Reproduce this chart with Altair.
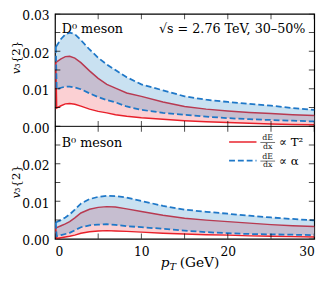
import altair as alt
import pandas as pd

# transverse momentum grid (GeV)
pt = [0.1, 0.2, 0.7, 1.2, 1.7, 2.3, 3.0, 4.0, 5.0, 6.0, 7.0, 8.3, 10.0, 12.5,
      15.0, 17.5, 20.0, 22.5, 25.0, 27.5, 30.0]

# D0 meson, dE/dx ~ T^2 (red band) and dE/dx ~ alpha (blue band)
d0_red_hi = [0.0169, 0.0172, 0.0180, 0.0186, 0.0187, 0.0182, 0.0170, 0.0148, 0.0128,
             0.0112, 0.0102, 0.0089, 0.0080, 0.0065, 0.0053, 0.0046, 0.0041, 0.0037,
             0.0034, 0.0031, 0.0029]
d0_red_lo = [0.0169, 0.0049, 0.0055, 0.0060, 0.0061, 0.0059, 0.0054, 0.0046, 0.0040,
             0.0036, 0.0031, 0.0027, 0.0023, 0.0019, 0.0015, 0.0012, 0.0010, 0.0008,
             0.0006, 0.0005, 0.0004]
d0_blue_hi = [0.0212, 0.0215, 0.0233, 0.0245, 0.0250, 0.0246, 0.0230, 0.0205, 0.0183,
              0.0165, 0.0150, 0.0131, 0.0112, 0.0096, 0.0080, 0.0071, 0.0065, 0.0060,
              0.0055, 0.0049, 0.0044]
d0_blue_lo = [0.0212, 0.0099, 0.0103, 0.0106, 0.0106, 0.0104, 0.0099, 0.0088, 0.0078,
              0.0070, 0.0064, 0.0053, 0.0044, 0.0036, 0.0031, 0.0026, 0.0022, 0.0019,
              0.0017, 0.0015, 0.0013]

# B0 meson
b0_red_hi = [0.0028, 0.0030, 0.0035, 0.0040, 0.0046, 0.0056, 0.0069, 0.0079, 0.0084,
             0.0086, 0.0085, 0.0080, 0.0073, 0.0063, 0.0055, 0.0050, 0.0046, 0.0042,
             0.0038, 0.0035, 0.0033]
b0_red_lo = [0.0028, 0.0001, 0.0003, 0.0005, 0.0007, 0.0010, 0.0015, 0.0019, 0.0021,
             0.0022, 0.0021, 0.0020, 0.0018, 0.0015, 0.0013, 0.0011, 0.0010, 0.0008,
             0.0007, 0.0006, 0.0005]
b0_blue_hi = [0.0043, 0.0045, 0.0050, 0.0057, 0.0065, 0.0078, 0.0094, 0.0106, 0.0112,
              0.0115, 0.0114, 0.0110, 0.0101, 0.0088, 0.0078, 0.0072, 0.0067, 0.0062,
              0.0057, 0.0053, 0.0049]
b0_blue_lo = [0.0043, 0.0007, 0.0010, 0.0013, 0.0016, 0.0023, 0.0031, 0.0036, 0.0038,
              0.0039, 0.0037, 0.0034, 0.0031, 0.0027, 0.0022, 0.0018, 0.0015, 0.0013,
              0.0012, 0.0011, 0.0010]

x_labels = [0, 10, 20, 30]
x_minor = [0, 5, 10, 15, 20, 25, 30]
y_labels = [0.0, 0.01, 0.02, 0.03, 0.04, 0.05, 0.06]
y_minor = [i * 0.005 for i in range(13)]
PANEL_OFFSET = 0.03  # upper panel (D0) is stacked above the lower one (B0)

RED = "#e8202a"
BLUE = "#1f78c8"
PINK = "#fbd0d3"
FONT = "DejaVu Serif, Liberation Serif, serif"
W, H = 265, 230


def panel_frame(name, off, rlo, rhi, blo, bhi):
    return pd.DataFrame({
        "panel": name, "pt": pt,
        "red_lo": [v + off for v in rlo], "red_hi": [v + off for v in rhi],
        "blue_lo": [v + off for v in blo], "blue_hi": [v + off for v in bhi],
    })


df = pd.concat([
    panel_frame("D0", PANEL_OFFSET, d0_red_lo, d0_red_hi, d0_blue_lo, d0_blue_hi),
    panel_frame("B0", 0.0, b0_red_lo, b0_red_hi, b0_blue_lo, b0_blue_hi),
])

xscale = alt.Scale(domain=[0, 30], nice=False, zero=False)
yscale = alt.Scale(domain=[0, 0.06], nice=False, zero=False)
xaxis = alt.Axis(values=x_labels, format="d", ticks=False, domain=False, grid=False,
                 title=None, labelPadding=7, labelFont=FONT, labelFontSize=12.5,
                 labelColor="black")
yaxis = alt.Axis(values=y_labels, ticks=False, domain=False, grid=False, title=None,
                 labelExpr="format(datum.value > 0.0295 ? datum.value - 0.03 : datum.value, '.2f')",
                 labelPadding=6, labelFont=FONT, labelFontSize=12.5, labelColor="black",
                 labelOffset=2)


def X(f):
    return alt.X(f, type="quantitative", scale=xscale, axis=xaxis)


def Y(f):
    return alt.Y(f, type="quantitative", scale=yscale, axis=yaxis)


base = alt.Chart(df)
red_band = base.mark_area(color=PINK, opacity=1).encode(
    x=X("pt"), y=Y("red_lo"), y2="red_hi", detail="panel:N")
red_lo_line = base.mark_line(color=RED, strokeWidth=1.5).encode(
    x=X("pt"), y=Y("red_lo"), detail="panel:N")
red_hi_line = base.mark_line(color=RED, strokeWidth=1.5).encode(
    x=X("pt"), y=Y("red_hi"), detail="panel:N")
blue_band = base.mark_area(color="#2787c7", opacity=0.25).encode(
    x=X("pt"), y=Y("blue_lo"), y2="blue_hi", detail="panel:N")
blue_lo_line = base.mark_line(color=BLUE, strokeWidth=1.8, strokeDash=[6, 3]).encode(
    x=X("pt"), y=Y("blue_lo"), detail="panel:N")
blue_hi_line = base.mark_line(color=BLUE, strokeWidth=1.8, strokeDash=[6, 3]).encode(
    x=X("pt"), y=Y("blue_hi"), detail="panel:N")

# inward ticks on all sides, and on the shared border between the panels
xt = pd.DataFrame({"t": x_minor, "yb": PANEL_OFFSET})
yt = pd.DataFrame({"t": y_minor})
tick_kw = dict(color="black", thickness=1, size=11, clip=True)
xt_top = alt.Chart(xt).mark_tick(orient="vertical", **tick_kw).encode(
    x=X("t"), y=alt.value(0))
xt_bot = alt.Chart(xt).mark_tick(orient="vertical", **tick_kw).encode(
    x=X("t"), y=alt.value(H))
xt_mid = alt.Chart(xt).mark_tick(orient="vertical", **tick_kw).encode(
    x=X("t"), y=Y("yb"))
yt_left = alt.Chart(yt).mark_tick(orient="horizontal", **tick_kw).encode(
    y=Y("t"), x=alt.value(0))
yt_right = alt.Chart(yt).mark_tick(orient="horizontal", **tick_kw).encode(
    y=Y("t"), x=alt.value(W))
border = alt.Chart(pd.DataFrame({"yb": [PANEL_OFFSET]})).mark_rule(
    color="black", strokeWidth=1).encode(y=Y("yb"))

# annotations
ann = pd.DataFrame({
    "x": [0.79, 28.98, 0.79],
    "y": [0.0550, 0.0550, 0.0245],
    "text": ["D⁰ meson", "√s = 2.76 TeV, 30–50%", "B⁰ meson"],
    "align": ["left", "right", "left"],
})
ann_left = alt.Chart(ann[ann["align"] == "left"]).mark_text(
    align="left", baseline="alphabetic", font=FONT, fontSize=13, color="black").encode(
    x=X("x"), y=Y("y"), text="text")
ann_right = alt.Chart(ann[ann["align"] == "right"]).mark_text(
    align="right", baseline="alphabetic", font=FONT, fontSize=13, color="black").encode(
    x=X("x"), y=Y("y"), text="text")

# legend
leg_lines = pd.DataFrame({"x": [20.15, 20.15], "x2": [23.32, 23.32],
                          "y": [0.02583, 0.02087], "k": ["T2", "alpha"]})
leg_red = alt.Chart(leg_lines[leg_lines.k == "T2"]).mark_rule(
    color=RED, strokeWidth=1.5).encode(x=X("x"), x2="x2", y=Y("y"))
leg_blue = alt.Chart(leg_lines[leg_lines.k == "alpha"]).mark_rule(
    color=BLUE, strokeWidth=1.8, strokeDash=[6, 3]).encode(x=X("x"), x2="x2", y=Y("y"))
frac_bar = pd.DataFrame({"x": [23.77, 23.77], "x2": [25.47, 25.47], "y": [0.0257, 0.02074]})
leg_bars = alt.Chart(frac_bar).mark_rule(color="#333", strokeWidth=0.7).encode(
    x=X("x"), x2="x2", y=Y("y"))
frac_txt = pd.DataFrame({"x": [24.62] * 4, "y": [0.02687, 0.02452, 0.02191, 0.01957],
                         "text": ["dE", "dx", "dE", "dx"]})
leg_frac = alt.Chart(frac_txt).mark_text(
    align="center", baseline="middle", font=FONT, fontSize=8, color="#222").encode(
    x=X("x"), y=Y("y"), text="text")
prop_txt = pd.DataFrame({"x": [25.93, 25.93], "y": [0.02583, 0.02087],
                         "text": ["∝ T²", "∝ α"]})
leg_prop = alt.Chart(prop_txt).mark_text(
    align="left", baseline="middle", font=FONT, fontSize=12, color="black").encode(
    x=X("x"), y=Y("y"), text="text")

# axis titles, composed from parts (italic symbols, subscripts)
xt_p = alt.Chart(pd.DataFrame({"x": [12.23], "text": ["p"]})).mark_text(
    align="left", baseline="alphabetic", font=FONT, fontSize=14, fontStyle="italic",
    color="black").encode(x=X("x"), y=alt.value(259), text="text")
xt_T = alt.Chart(pd.DataFrame({"x": [13.25], "text": ["T"]})).mark_text(
    align="left", baseline="alphabetic", font=FONT, fontSize=10, fontStyle="italic",
    color="black").encode(x=X("x"), y=alt.value(262), text="text")
xt_gev = alt.Chart(pd.DataFrame({"x": [14.43], "text": ["(GeV)"]})).mark_text(
    align="left", baseline="alphabetic", font=FONT, fontSize=14,
    color="black").encode(x=X("x"), y=alt.value(259), text="text")

yt_v = alt.Chart(pd.DataFrame({"y": [0.04389, 0.01076], "text": ["v", "v"]})).mark_text(
    align="left", baseline="alphabetic", angle=270, font=FONT, fontSize=12,
    fontStyle="italic", color="black").encode(x=alt.value(-36), y=Y("y"), text="text")
yt_rest = alt.Chart(pd.DataFrame({"y": [0.04559, 0.01246], "text": ["₃{2}", "₃{2}"]})).mark_text(
    align="left", baseline="alphabetic", angle=270, font=FONT, fontSize=12,
    color="black").encode(x=alt.value(-36), y=Y("y"), text="text")

chart = alt.layer(
    red_band, red_lo_line, red_hi_line, blue_band, blue_lo_line, blue_hi_line,
    border, xt_top, xt_bot, xt_mid, yt_left, yt_right,
    ann_left, ann_right, leg_red, leg_blue, leg_bars, leg_frac, leg_prop,
    xt_p, xt_T, xt_gev, yt_v, yt_rest,
).properties(
    width=W, height=H,
    autosize=alt.AutoSizeParams(type="none"),
    padding={"left": 48, "top": 3, "right": 10, "bottom": 36},
).configure_view(stroke="black", strokeWidth=1.2)

chart.save("out.html", embed_options={"renderer": "svg", "actions": False})
